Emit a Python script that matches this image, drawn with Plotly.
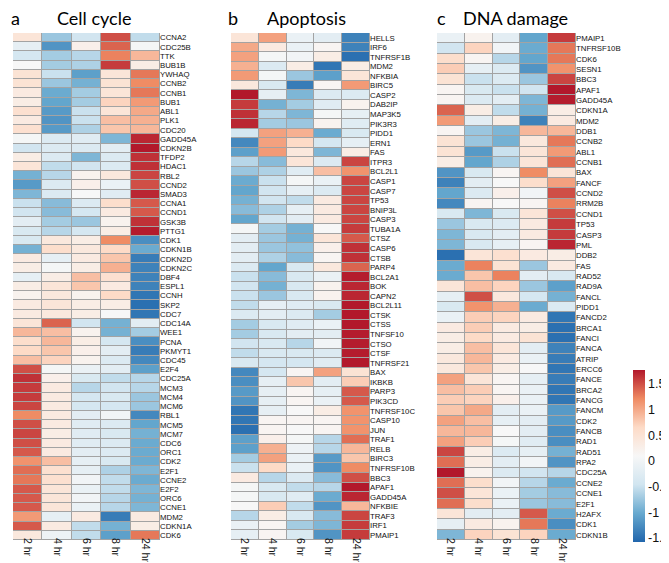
import plotly.graph_objects as go

time_points = ["2 hr", "4 hr", "6 hr", "8 hr", "24 hr"]

cell_cycle_genes = ["CCNA2", "CDC25B", "TTK", "BUB1B", "YWHAQ", "CCNB2", "CCNB1", "BUB1", "ABL1", "PLK1",
                    "CDC20", "GADD45A", "CDKN2B", "TFDP2", "HDAC1", "RBL2", "CCND2", "SMAD3", "CCNA1", "CCND1",
                    "GSK3B", "PTTG1", "CDK1", "CDKN1B", "CDKN2D", "CDKN2C", "DBF4", "ESPL1", "CCNH", "SKP2",
                    "CDC7", "CDC14A", "WEE1", "PCNA", "PKMYT1", "CDC45", "E2F4", "CDC25A", "MCM3", "MCM4",
                    "MCM6", "RBL1", "MCM5", "MCM7", "CDC6", "ORC1", "CDK2", "E2F1", "CCNE2", "E2F2",
                    "ORC6", "CCNE1", "MDM2", "CDKN1A", "CDK6"]
cell_cycle_values = [
    [0.45, -0.75, -0.45, 1.5, -0.55],
    [-0.15, -1.2, 0.25, 1.4, 0.05],
    [-0.4, -0.7, -0.6, 1.25, 0.9],
    [0.1, -0.7, -0.65, 1.6, 0.3],
    [0.5, -0.5, -1.1, 0.45, 1.3],
    [0.5, -0.75, -0.95, 0.5, 1.2],
    [0.35, -1.0, -0.7, 0.45, 1.3],
    [0.3, -1.05, -0.7, 0.7, 1.1],
    [0.55, -1.15, -0.5, 0.45, 1.0],
    [0.35, -1.2, -0.5, 0.85, 0.95],
    [0.55, -1.15, -0.65, 0.8, 0.9],
    [0.05, -0.3, -0.25, -0.9, 1.7],
    [-0.45, -0.3, -0.3, -0.2, 1.8],
    [0.3, -0.3, -0.9, -0.3, 1.65],
    [0.45, -0.55, -0.45, -0.3, 1.65],
    [-0.95, -0.6, 0.2, 0.4, 1.55],
    [-1.15, -0.3, 0.25, -0.1, 1.5],
    [-0.9, -0.3, 0.1, -0.25, 1.7],
    [-0.5, -0.85, -0.3, 0.6, 1.45],
    [-0.45, -0.85, -0.4, 0.35, 1.45],
    [-0.2, -0.7, -0.75, 0.2, 1.65],
    [-0.35, -0.6, -0.4, 0.3, 1.75],
    [-0.35, 0.4, 0.3, 1.2, -1.25],
    [-0.95, 0.6, 0.4, 0.65, -1.0],
    [0.35, -0.15, 0.35, 0.8, -1.4],
    [0.3, 0.05, 0.3, 0.95, -1.35],
    [-0.15, 0.3, 0.85, 0.55, -1.35],
    [0.3, 0.45, 0.8, 0.35, -1.35],
    [0.2, 0.4, 0.2, 0.65, -1.45],
    [0.35, 0.45, 0.3, 0.3, -1.5],
    [0.35, 0.4, 0.3, 0.1, -1.45],
    [0.45, 1.4, -0.45, -0.95, -0.2],
    [0.9, 0.85, 0.2, -0.95, -0.7],
    [0.6, 0.9, 0.3, -0.4, -1.25],
    [0.65, 0.8, 0.25, -0.2, -1.4],
    [0.85, 0.7, 0.2, -0.3, -1.3],
    [1.5, 0.05, -0.1, -0.2, -1.1],
    [1.65, 0.25, -0.35, -0.55, -0.6],
    [1.6, 0.35, -0.6, -0.45, -0.6],
    [1.6, 0.35, -0.4, -0.35, -0.75],
    [1.55, 0.35, -0.4, -0.4, -0.75],
    [1.2, 0.35, -0.2, 0.0, -1.3],
    [1.5, 0.35, -0.25, -0.3, -1.05],
    [1.55, 0.3, -0.25, -0.35, -0.95],
    [1.5, 0.35, -0.25, -0.3, -1.0],
    [1.45, 0.35, -0.2, -0.3, -1.0],
    [1.15, 0.85, -0.15, -0.35, -1.0],
    [1.35, 0.55, -0.15, -0.65, -0.9],
    [1.3, 0.55, 0.0, -0.55, -1.0],
    [1.45, 0.45, -0.1, -0.55, -0.9],
    [1.45, 0.45, 0.0, -0.6, -0.95],
    [1.45, 0.45, -0.1, -0.6, -0.9],
    [1.1, -0.15, 0.35, -1.4, 0.35],
    [1.45, 0.35, -0.55, -0.95, 0.3],
    [0.4, -0.05, -0.55, -1.1, 1.3],
]

apoptosis_genes = ["HELLS", "IRF6", "TNFRSF1B", "MDM2", "NFKBIA", "BIRC5", "CASP2", "DAB2IP", "MAP3K5", "PIK3R3",
                   "PIDD1", "ERN1", "FAS", "ITPR3", "BCL2L1", "CASP1", "CASP7", "TP53", "BNIP3L", "CASP3",
                   "TUBA1A", "CTSZ", "CASP6", "CTSB", "PARP4", "BCL2A1", "BOK", "CAPN2", "BCL2L11", "CTSK",
                   "CTSS", "TNFSF10", "CTSO", "CTSF", "TNFRSF21", "BAX", "IKBKB", "PARP3", "PIK3CD", "TNFRSF10C",
                   "CASP10", "JUN", "TRAF1", "RELB", "BIRC3", "TNFRSF10B", "BBC3", "APAF1", "GADD45A", "NFKBIE",
                   "TRAF3", "IRF1", "PMAIP1"]
apoptosis_values = [
    [0.45, 1.05, -0.1, -0.2, -1.35],
    [1.0, 0.35, -0.1, 0.15, -1.35],
    [1.05, 0.05, 0.0, 0.3, -1.5],
    [0.95, -0.3, 0.3, -1.45, 0.3],
    [1.1, 0.05, -0.75, -1.1, 0.45],
    [0.4, -0.35, -1.4, 0.15, 1.1],
    [1.8, -0.15, -0.9, -0.3, -0.3],
    [1.6, -0.95, -0.7, -0.25, 0.2],
    [1.65, -0.6, -0.9, 0.05, -0.15],
    [1.7, -0.7, -0.75, 0.2, -0.25],
    [-0.4, 1.05, 0.95, -1.0, -0.35],
    [-1.3, 1.05, 0.65, -0.4, -0.15],
    [-1.1, 1.1, 0.4, -0.9, 0.3],
    [-0.6, -0.85, 0.45, -0.3, 1.55],
    [-0.75, -0.65, -0.25, 0.85, 1.15],
    [-1.0, -0.5, 0.05, -0.1, 1.55],
    [-1.05, -0.45, -0.15, -0.3, 1.55],
    [-0.95, -0.45, -0.55, 0.35, 1.55],
    [-0.85, -0.65, -0.15, 0.35, 1.55],
    [-1.05, -0.45, -0.2, 0.35, 1.55],
    [0.05, -0.7, -0.95, 0.1, 1.6],
    [-0.2, -0.75, -0.95, 0.45, 1.45],
    [-0.2, -0.75, -0.8, 0.25, 1.65],
    [-0.2, -0.65, -0.85, 0.15, 1.65],
    [-0.3, -1.05, -0.35, 0.4, 1.4],
    [-0.5, -0.85, -0.35, -0.1, 1.75],
    [-0.45, -0.95, -0.35, 0.2, 1.7],
    [-0.5, -0.75, -0.35, 0.2, 1.7],
    [-0.55, -0.15, -0.25, -0.35, 1.8],
    [-0.3, -0.2, -0.3, -0.7, 1.8],
    [-0.7, -0.35, -0.25, -0.1, 1.8],
    [-0.7, -0.35, -0.2, -0.2, 1.75],
    [-0.45, -0.35, -0.6, 0.0, 1.75],
    [-0.55, -0.35, -0.35, -0.3, 1.75],
    [-0.35, -0.4, -0.4, -0.25, 1.8],
    [-1.3, -0.4, 0.15, 1.05, 0.5],
    [-1.25, -0.15, 0.8, -0.2, 0.75],
    [-1.15, -0.15, 0.15, -0.15, 1.45],
    [-1.2, -0.15, 0.15, -0.1, 1.45],
    [-1.45, -0.15, 0.1, 0.3, 1.15],
    [-1.45, 0.15, 0.15, 0.15, 1.15],
    [-1.5, 0.15, 0.1, 0.15, 1.15],
    [-1.1, 0.25, 0.05, -0.6, 1.35],
    [-1.1, 0.95, -0.05, -0.6, 0.9],
    [-0.7, 1.05, -0.1, -1.15, 0.8],
    [-0.5, 0.65, -0.1, -1.2, 1.2],
    [0.35, -0.6, -0.3, -0.85, 1.5],
    [0.05, -0.35, -0.55, -0.6, 1.8],
    [0.05, -0.35, -0.25, -1.0, 1.7],
    [0.1, 0.75, -0.55, -1.2, 0.9],
    [-0.6, 0.3, -0.35, -0.85, 1.55],
    [-0.1, 0.15, -0.7, -0.9, 1.6],
    [-0.15, 0.15, -0.35, -1.2, 1.6],
]

dna_damage_genes = ["PMAIP1", "TNFRSF10B", "CDK6", "SESN1", "BBC3", "APAF1", "GADD45A", "CDKN1A", "MDM2", "DDB1",
                    "CCNB2", "ABL1", "CCNB1", "BAX", "FANCF", "CCND2", "RRM2B", "CCND1", "TP53", "CASP3",
                    "PML", "DDB2", "FAS", "RAD52", "RAD9A", "FANCL", "PIDD1", "FANCD2", "BRCA1", "FANCI",
                    "FANCA", "ATRIP", "ERCC6", "FANCE", "BRCA2", "FANCG", "FANCM", "CDK2", "FANCB", "RAD1",
                    "RAD51", "RPA2", "CDC25A", "CCNE2", "CCNE1", "E2F1", "H2AFX", "CDK1", "CDKN1B"]
dna_damage_values = [
    [-0.1, 0.2, -0.2, -1.05, 1.6],
    [-0.45, 0.7, 0.0, -1.0, 1.3],
    [0.6, 0.15, -0.6, -1.05, 1.3],
    [0.75, -0.15, -0.3, -1.2, 1.15],
    [0.5, -0.5, -0.3, -0.75, 1.55],
    [0.15, -0.35, -0.5, -0.45, 1.8],
    [0.15, -0.3, -0.2, -0.9, 1.75],
    [1.4, 0.3, -0.55, -0.95, 0.3],
    [1.1, -0.2, 0.3, -1.35, 0.35],
    [0.15, -0.75, -0.9, 0.9, 0.9],
    [0.5, -0.75, -0.95, 0.4, 1.3],
    [0.5, -1.15, -0.5, 0.45, 1.1],
    [0.3, -1.05, -0.65, 0.45, 1.35],
    [-1.2, -0.35, 0.15, 1.2, 0.45],
    [-1.35, -0.2, 0.1, 0.6, 1.05],
    [-1.05, -0.3, 0.25, 0.0, 1.5],
    [-1.3, 0.15, 0.1, 0.15, 1.25],
    [-0.35, -0.9, -0.35, 0.45, 1.5],
    [-0.75, -0.35, -0.3, 0.35, 1.6],
    [-0.9, -0.35, -0.2, 0.35, 1.6],
    [-0.9, -0.35, -0.15, 0.15, 1.7],
    [-1.5, 0.45, 0.55, 0.35, 0.3],
    [-1.0, 1.25, 0.5, -0.75, 0.35],
    [-1.0, 0.8, 1.25, -0.2, -0.35],
    [0.45, 0.85, 0.7, -0.75, -1.1],
    [-0.15, 1.5, 0.4, -0.4, -0.95],
    [-0.35, 1.15, 0.95, -1.0, -0.3],
    [-0.1, 0.75, 0.7, 0.35, -1.45],
    [0.35, 0.75, 0.35, 0.3, -1.5],
    [0.3, 0.65, 0.35, 0.5, -1.5],
    [0.3, 0.85, 0.45, -0.2, -1.35],
    [0.4, 0.9, 0.35, -0.1, -1.4],
    [0.4, 0.8, 0.3, 0.1, -1.45],
    [1.05, 0.45, 0.15, -0.15, -1.4],
    [0.85, 0.75, 0.15, -0.1, -1.45],
    [0.75, 0.7, 0.25, -0.1, -1.45],
    [0.8, 1.0, -0.2, -0.1, -1.15],
    [1.05, 0.85, -0.15, -0.2, -1.15],
    [0.9, 0.9, 0.1, -0.2, -1.25],
    [1.05, 0.75, 0.05, -0.25, -1.25],
    [1.55, 0.3, -0.3, -0.15, -0.95],
    [1.35, 0.3, -0.2, 0.0, -1.2],
    [1.8, 0.2, -0.3, -0.45, -0.6],
    [1.35, 0.6, 0.0, -0.6, -1.0],
    [1.5, 0.45, -0.1, -0.7, -0.85],
    [1.35, 0.6, -0.1, -0.75, -0.85],
    [0.45, -0.2, -0.2, 1.45, -1.0],
    [-0.15, 0.35, 0.2, 1.3, -1.25],
    [-0.9, 0.7, 0.5, 0.7, -1.0],
]

panel_letters = ["a", "b", "c"]
panel_titles = ["Cell cycle", "Apoptosis", "DNA damage"]
colorbar_ticks = [-1.5, -1, -0.5, 0, 0.5, 1, 1.5]
colorbar_ticktext = ["-1.5", "-1", "-0.5", "0", "0.5", "1", "1.5"]

W, H = 669, 563
palette = ["#2166AC", "#67A9CF", "#D1E5F0", "#F7F7F7", "#FDDBC7", "#EF8A62", "#B2182B"]
colorscale = [[i / (len(palette) - 1), c] for i, c in enumerate(palette)]

fig = go.Figure()
panels = [
    (cell_cycle_genes, cell_cycle_values, (5, 152)),
    (apoptosis_genes, apoptosis_values, (223, 362)),
    (dna_damage_genes, dna_damage_values, (429, 568)),
]
y_dom = [(H - 532) / H, (H - 25) / H]
layout = {}
for i, (genes, vals, (x0, x1)) in enumerate(panels):
    sfx = "" if i == 0 else str(i + 1)
    fig.add_trace(go.Heatmap(
        x=time_points, y=genes, z=vals, coloraxis="coloraxis",
        xgap=1, ygap=1, xaxis="x" + sfx, yaxis="y" + sfx,
    ))
    layout["xaxis" + sfx] = dict(
        domain=[x0 / W, x1 / W], anchor="y" + sfx, tickangle=90,
        tickmode="array", tickvals=time_points, ticktext=time_points,
        showgrid=False, zeroline=False, showline=False, ticks="",
        tickfont=dict(family="Liberation Sans", size=10.5, color="#111111"),
        ticklabelstandoff=-3,
    )
    layout["yaxis" + sfx] = dict(
        domain=y_dom, anchor="x" + sfx, side="right", autorange="reversed",
        tickmode="array", tickvals=genes, ticktext=genes,
        showgrid=False, zeroline=False, showline=False, ticks="",
        tickfont=dict(family="Liberation Sans", size=7.8, color="#111111"),
        ticklabelstandoff=-1,
    )

annotations = []
letter_x = [1, 218, 427]
title_x = [47, 257, 453]
for lx, tx, letter, title in zip(letter_x, title_x, panel_letters, panel_titles):
    annotations.append(dict(text=letter, x=lx / W, y=(H - 10) / H, xref="paper", yref="paper",
                            xanchor="left", yanchor="middle", showarrow=False,
                            font=dict(family="Lato", size=18, color="#000000")))
    annotations.append(dict(text=title, x=tx / W, y=(H - 10) / H, xref="paper", yref="paper",
                            xanchor="left", yanchor="middle", showarrow=False,
                            font=dict(family="Lato", size=18, color="#000000")))

bar_top, bar_bottom = 362, 534

fig.update_layout(
    width=W, height=H,
    margin=dict(l=0, r=0, t=0, b=0),
    paper_bgcolor="white",
    plot_bgcolor="#a3a3a3",
    showlegend=False,
    annotations=annotations,
    coloraxis=dict(
        colorscale=colorscale, cmin=-1.58, cmax=1.77,
        colorbar=dict(
            thickness=12, thicknessmode="pixels",
            len=(bar_bottom - bar_top) / H, lenmode="fraction",
            x=625 / W, xanchor="left", xpad=0,
            y=(H - bar_bottom) / H, yanchor="bottom", ypad=0,
            outlinewidth=0, ticks="",
            tickvals=colorbar_ticks, ticktext=colorbar_ticktext,
            tickfont=dict(family="Liberation Sans", size=12.5, color="#111111"),
        ),
    ),
    **layout,
)

fig.write_html("out.html")
